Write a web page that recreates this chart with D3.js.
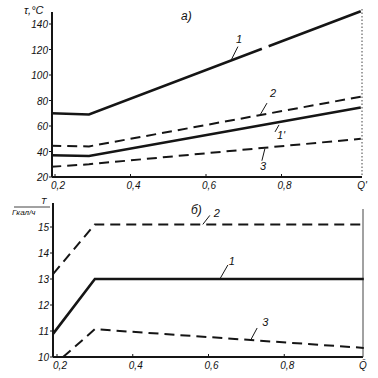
<!DOCTYPE html>
<html>
<head>
<meta charset="utf-8">
<script src="https://cdn.jsdelivr.net/npm/d3@7"></script>
<style>
  body { margin: 0; background: #fff; }
  text { font-family: "Liberation Sans", Arial, sans-serif; font-style: italic; fill: #111; }
</style>
</head>
<body>
<svg width="378" height="378"></svg>
<script>
//--------------------------DATA------------------------------------------------
// panel a): temperature vs relative load
var topX = [0.19, 0.29, 1.01];
var topCurve1 = [70, 69, 150];
var topCurve2 = [44.5, 44, 83];
var topCurve1p = [37, 36.5, 74.5];
var topCurve3 = [28, 30, 50];
var topTicksY = [20, 40, 60, 80, 100, 120, 140];

// panel б): heat output vs relative load
var botX = [0.19, 0.30, 1.01];
var botCurve1 = [10.9, 13.0, 13.0];
var botCurve2 = [13.2, 15.1, 15.1];
var botX3 = [0.216, 0.30, 1.01];
var botCurve3 = [10.0, 11.07, 10.35];
var botTicksY = [10, 11, 12, 13, 14, 15];

var ticksX = [0.2, 0.4, 0.6, 0.8];
var fmt = function(d) { return String(d).replace(".", ","); };

//--------------------------D3--------------------------------------------------
var svg = d3.select("svg");
var ink = "#151515";

function zip(xs, ys) {
    return xs.map(function(v, i) { return { x: v, y: ys[i] }; });
}

function drawPanel(cfg) {
    var g = svg.append("g");
    var x = d3.scaleLinear().domain([0.2, 1.0]).range(cfg.xr);
    var y = d3.scaleLinear().domain(cfg.yd).range(cfg.yr);
    var line = d3.line()
        .x(function(d) { return x(d.x); })
        .y(function(d) { return y(d.y); });

    // axes frame
    g.append("line")
        .attr("x1", cfg.axisLeft).attr("x2", cfg.axisLeft)
        .attr("y1", cfg.axisTop).attr("y2", y(cfg.yd[0]))
        .style("stroke", ink).style("stroke-width", 2);
    g.append("line")
        .attr("x1", cfg.axisLeft).attr("x2", cfg.axisRight)
        .attr("y1", y(cfg.yd[0])).attr("y2", y(cfg.yd[0]))
        .style("stroke", ink).style("stroke-width", 2);
    g.append("line")
        .attr("x1", cfg.axisRight).attr("x2", cfg.axisRight)
        .attr("y1", cfg.rightTop).attr("y2", y(cfg.yd[0]))
        .style("stroke", "#444").style("stroke-width", 1)
        .style("stroke-dasharray", cfg.rightDash);

    // y ticks
    g.selectAll(".ylab")
        .data(cfg.ticksY)
        .enter().append("text")
        .attr("x", cfg.axisLeft - 4)
        .attr("y", function(d) { return y(d) + 4; })
        .style("text-anchor", "end")
        .style("font-size", "10px")
        .text(function(d) { return d; });
    g.selectAll(".ytick")
        .data(cfg.ticksY)
        .enter().append("line")
        .attr("x1", cfg.axisLeft - 3).attr("x2", cfg.axisLeft)
        .attr("y1", function(d) { return y(d); })
        .attr("y2", function(d) { return y(d); })
        .style("stroke", ink).style("stroke-width", 1);

    // x ticks
    g.selectAll(".xtick")
        .data(ticksX)
        .enter().append("line")
        .attr("x1", function(d) { return x(d); })
        .attr("x2", function(d) { return x(d); })
        .attr("y1", y(cfg.yd[0]) - 3).attr("y2", y(cfg.yd[0]))
        .style("stroke", ink).style("stroke-width", 1);
    g.selectAll(".xlab")
        .data(ticksX)
        .enter().append("text")
        .attr("x", function(d) { return x(d) + 3; })
        .attr("y", y(cfg.yd[0]) + 12)
        .style("text-anchor", "middle")
        .style("font-size", "10px")
        .text(fmt);
    g.append("text")
        .attr("x", cfg.axisRight)
        .attr("y", y(cfg.yd[0]) + 12)
        .style("text-anchor", "middle")
        .style("font-size", "10px")
        .text(cfg.qLabel);

    // curves
    cfg.series.forEach(function(s) {
        g.append("path")
            .attr("d", line(zip(s.xs, s.ys)))
            .style("fill", "none")
            .style("stroke", ink)
            .style("stroke-width", s.dashed ? 2 : 2.6)
            .style("stroke-dasharray", s.dashed ? "10,6" : null);
    });

    // curve labels with leader strokes
    cfg.notes.forEach(function(n) {
        var s = cfg.series[n.s];
        var ay = y(d3.scaleLinear().domain(s.xs).range(s.ys)(n.at));
        var ax = x(n.at);
        g.append("line")
            .attr("x1", ax + n.l[0]).attr("y1", ay + n.l[1])
            .attr("x2", ax + n.l[2]).attr("y2", ay + n.l[3])
            .style("stroke", ink).style("stroke-width", 1);
        g.append("text")
            .attr("x", ax + n.dx).attr("y", ay + n.dy)
            .style("font-size", "11px")
            .text(n.text);
    });
    return { x: x, y: y, g: g };
}

var panelA = drawPanel({
    xr: [55, 357], yd: [20, 140], yr: [177, 24],
    axisLeft: 52, axisRight: 362, axisTop: 12, rightTop: 9, rightDash: "1.5,2",
    ticksY: topTicksY, qLabel: "Q'",
    series: [
        { xs: topX, ys: topCurve1, dashed: false },
        { xs: topX, ys: topCurve2, dashed: true },
        { xs: topX, ys: topCurve1p, dashed: false },
        { xs: topX, ys: topCurve3, dashed: true }
    ],
    notes: [
        { s: 0, at: 0.666, text: "1", dx: 5, dy: -18, l: [0, 0, 7, -14] },
        { s: 1, at: 0.743, text: "2", dx: 10, dy: -18, l: [0, 0, 7, -12] },
        { s: 2, at: 0.796, text: "1'", dx: -3, dy: 17, l: [-1, 3, -5, 10] },
        { s: 3, at: 0.756, text: "3", dx: -5, dy: 22, l: [0, 1, -3, 13] }
    ]
});

// break in curve 1 where it is labelled
var gapLine = d3.line()
    .x(function(d) { return panelA.x(d.x); })
    .y(function(d) { return panelA.y(d.y); });
var c1 = d3.scaleLinear().domain(topX).range(topCurve1);
panelA.g.append("path")
    .attr("d", gapLine([{ x: 0.748, y: c1(0.748) }, { x: 0.766, y: c1(0.766) }]))
    .style("stroke", "#fff").style("stroke-width", 5);

panelA.g.append("text")
    .attr("x", 24).attr("y", 14)
    .style("font-size", "11px")
    .text("τ,°C");
panelA.g.append("text")
    .attr("x", 181).attr("y", 20)
    .style("font-size", "12px")
    .text("a)");

var panelB = drawPanel({
    xr: [57, 360], yd: [10, 15], yr: [357, 227],
    axisLeft: 53, axisRight: 363, axisTop: 203, rightTop: 209, rightDash: null,
    ticksY: botTicksY, qLabel: "Q̄",
    series: [
        { xs: botX, ys: botCurve1, dashed: false },
        { xs: botX, ys: botCurve2, dashed: true },
        { xs: botX3, ys: botCurve3, dashed: true }
    ],
    notes: [
        { s: 1, at: 0.585, text: "2", dx: 11, dy: -7, l: [0, 0, 7, -9] },
        { s: 0, at: 0.63, text: "1", dx: 9, dy: -14, l: [0, 0, 8, -14] },
        { s: 2, at: 0.71, text: "3", dx: 12, dy: -14, l: [0, 1, 7, -12] }
    ]
});

panelB.g.append("text")
    .attr("x", 41).attr("y", 204)
    .style("font-size", "9px")
    .text("T");
panelB.g.append("line")
    .attr("x1", 14).attr("x2", 50).attr("y1", 207).attr("y2", 207)
    .style("stroke", ink).style("stroke-width", 0.8);
panelB.g.append("text")
    .attr("x", 12).attr("y", 215)
    .style("font-size", "8px")
    .text("Гкал/ч");
panelB.g.append("text")
    .attr("x", 191).attr("y", 214)
    .style("font-size", "12px")
    .text("б)");
</script>
</body>
</html>
